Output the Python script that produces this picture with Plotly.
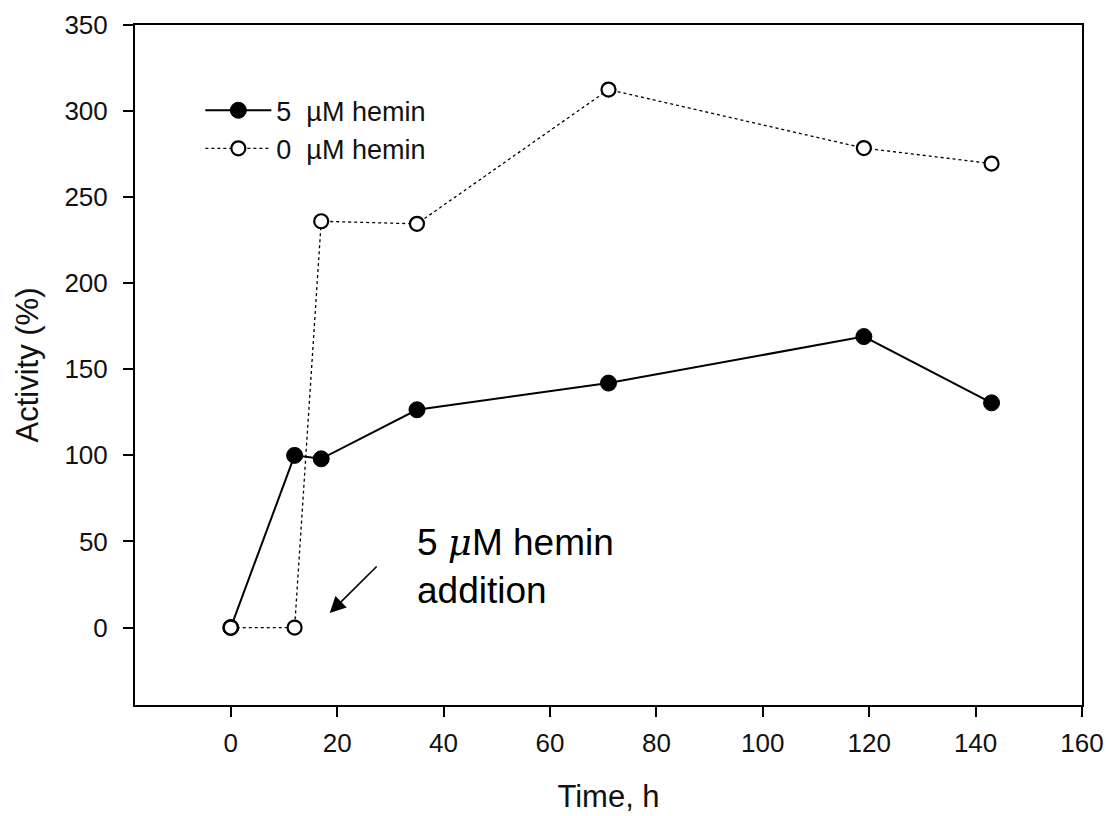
import plotly.graph_objects as go

# Sampling times (h)
time_h = [0, 12, 17, 35, 71, 119, 143]

# Relative activity (%) for each culture condition
activity_5uM = [0, 100, 98, 126.5, 142, 169, 130.5]
activity_0uM = [0, 0, 236, 234.5, 312.5, 278.5, 269.5]

series_names = ["5  µM hemin", "0  µM hemin"]

x_ticks = [0, 20, 40, 60, 80, 100, 120, 140, 160]
y_ticks = [0, 50, 100, 150, 200, 250, 300, 350]

FONT = "Liberation Sans, Arial, sans-serif"

fig = go.Figure()

fig.add_trace(go.Scatter(
    x=time_h, y=activity_5uM, name=series_names[0], mode="lines+markers",
    line=dict(color="black", width=2),
    marker=dict(symbol="circle", size=16, color="black",
                line=dict(color="black", width=1)),
))

fig.add_trace(go.Scatter(
    x=time_h, y=activity_0uM, name=series_names[1], mode="lines+markers",
    line=dict(color="black", width=1.3, dash="dot"),
    marker=dict(symbol="circle", size=14, color="white",
                line=dict(color="black", width=2.2)),
))

# Arrow and label marking the hemin addition
fig.add_annotation(
    x=18.6, y=8.4, ax=27.7, ay=36.3, xref="x", yref="y", axref="x", ayref="y",
    text="", showarrow=True, arrowhead=2, arrowsize=2, arrowwidth=1.6,
    arrowcolor="black",
)
fig.add_annotation(
    x=34.6, y=36, xref="x", yref="y", xanchor="left", yanchor="middle",
    align="left", showarrow=False,
    text='5 <span style="font-family:DejaVu Serif"><i>μ</i></span>M hemin<br>addition',
    font=dict(family=FONT, size=37, color="black"),
)

axis_common = dict(
    showgrid=False, zeroline=False, showline=True, linecolor="black",
    linewidth=2, mirror=True, ticks="outside", ticklen=10, tickwidth=2,
    tickcolor="black", tickfont=dict(family=FONT, size=26, color="#111"),
    automargin=False,
)

fig.update_xaxes(
    range=[-18, 160], tickvals=x_ticks, ticklabelstandoff=4,
    title=dict(text="Time, h", font=dict(family=FONT, size=31, color="#111"),
               standoff=28),
    **axis_common,
)
fig.update_yaxes(
    range=[-45, 350], tickvals=y_ticks, ticklabelstandoff=10,
    title=dict(text="Activity (%)", font=dict(family=FONT, size=31, color="#111"),
               standoff=17),
    **axis_common,
)

fig.update_layout(
    width=1109, height=816,
    margin=dict(l=135, r=27, t=25, b=111),
    paper_bgcolor="white", plot_bgcolor="white",
    showlegend=True,
    legend=dict(
        x=0.069, y=0.91, xanchor="left", yanchor="top",
        bgcolor="rgba(0,0,0,0)", borderwidth=0,
        font=dict(family=FONT, size=27, color="#111"),
        itemwidth=66,
    ),
)

fig.write_html("out.html")
